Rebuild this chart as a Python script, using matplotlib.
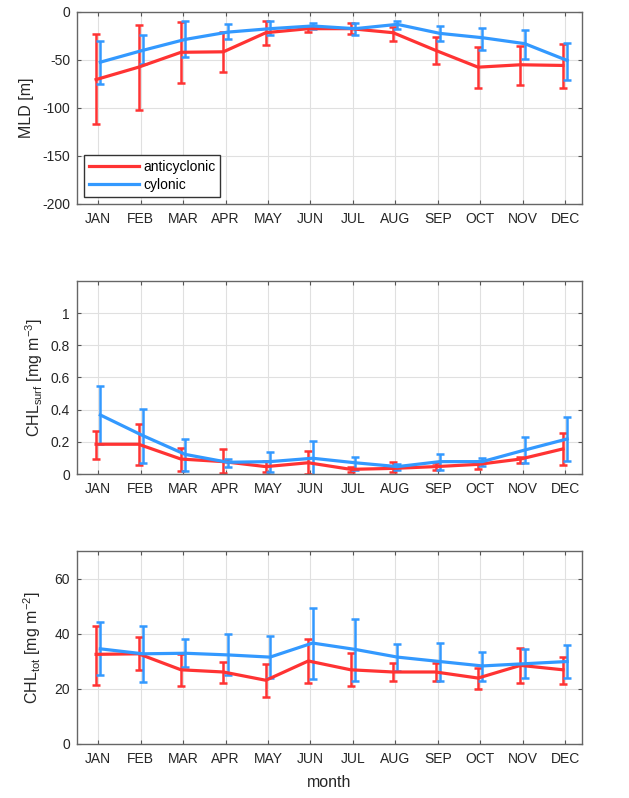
import numpy as np
import matplotlib
matplotlib.use("Agg")
import matplotlib.pyplot as plt
from matplotlib.lines import Line2D

plt.rcParams['font.family'] = ['Liberation Sans', 'DejaVu Sans']
plt.rcParams['mathtext.default'] = 'regular'
plt.rcParams['axes.unicode_minus'] = False

months = ['JAN', 'FEB', 'MAR', 'APR', 'MAY', 'JUN',
          'JUL', 'AUG', 'SEP', 'OCT', 'NOV', 'DEC']

# MLD [m]: mean, upper end, lower end of error bar
mld_anti = [-70.4, -57.5, -42.0, -41.5, -21.6, -17.4, -17.4, -21.6, -40.0, -57.5, -55.0, -55.7]
mld_anti_hi = [-23.0, -14.0, -10.5, -20.5, -9.4, -14.6, -11.0, -15.3, -26.0, -36.2, -35.5, -33.0]
mld_anti_lo = [-117.0, -102.0, -74.5, -62.7, -34.8, -20.6, -22.6, -30.3, -54.0, -79.0, -75.6, -79.0]
mld_cyc = [-52.3, -40.0, -28.6, -21.0, -17.4, -14.6, -17.4, -12.9, -22.3, -26.8, -33.0, -50.5]
mld_cyc_hi = [-30.3, -24.4, -9.8, -12.9, -9.4, -11.0, -11.0, -9.4, -14.6, -16.4, -18.8, -32.0]
mld_cyc_lo = [-74.6, -54.7, -47.0, -28.6, -24.4, -17.4, -23.7, -18.1, -30.3, -39.7, -49.5, -70.4]

# CHL surf [mg m-3]
surf_anti = [0.185, 0.185, 0.093, 0.077, 0.046, 0.070, 0.029, 0.035, 0.046, 0.060, 0.093, 0.156]
surf_anti_hi = [0.270, 0.310, 0.164, 0.154, 0.081, 0.145, 0.045, 0.077, 0.070, 0.080, 0.108, 0.253]
surf_anti_lo = [0.093, 0.056, 0.019, 0.004, 0.010, 0.000, 0.012, 0.015, 0.025, 0.030, 0.070, 0.056]
surf_cyc = [0.367, 0.239, 0.122, 0.073, 0.077, 0.098, 0.070, 0.046, 0.077, 0.077, 0.149, 0.218]
surf_cyc_hi = [0.548, 0.405, 0.216, 0.091, 0.135, 0.205, 0.104, 0.062, 0.124, 0.100, 0.232, 0.353]
surf_cyc_lo = [0.185, 0.066, 0.021, 0.041, 0.015, -0.005, 0.025, 0.025, 0.025, 0.050, 0.066, 0.083]

# CHL tot [mg m-2]
tot_anti = [32.5, 32.7, 26.9, 26.1, 23.1, 30.1, 26.9, 26.1, 26.1, 23.9, 28.5, 26.9]
tot_anti_hi = [42.9, 38.7, 32.5, 29.9, 29.1, 37.9, 32.9, 29.3, 29.5, 27.5, 34.9, 31.7]
tot_anti_lo = [21.5, 26.9, 20.9, 22.2, 17.1, 22.2, 21.0, 22.8, 22.7, 20.1, 22.1, 21.9]
tot_cyc = [34.5, 32.7, 32.9, 32.3, 31.5, 36.6, 34.3, 31.5, 29.9, 28.3, 29.1, 29.9]
tot_cyc_hi = [44.4, 42.6, 38.1, 39.7, 39.1, 49.2, 45.3, 36.3, 36.7, 33.5, 34.5, 35.9]
tot_cyc_lo = [24.9, 22.5, 27.9, 25.1, 23.9, 23.7, 22.7, 26.5, 22.8, 22.8, 23.9, 23.9]

RED = '#ff3333'
BLUE = '#3399ff'
x = np.arange(1, 13)


def _errplot(ax, xs, m, hi, lo, color):
    m = np.asarray(m)
    yerr = [m - np.asarray(lo), np.asarray(hi) - m]
    ax.errorbar(xs, m, yerr=yerr, color=color, lw=2.3, elinewidth=1.8,
                capsize=3, capthick=1.8)


def _style(ax):
    ax.set_xlim(0.5, 12.4)
    ax.set_xticks(x)
    ax.set_xticklabels(months)
    ax.grid(True, color='#e0e0e0', lw=0.8)
    ax.set_axisbelow(True)
    ax.tick_params(direction='in', top=True, right=True, length=3,
                   color='#555555', labelcolor='#262626', labelsize=10)
    ax.tick_params(axis='x', pad=6)
    ax.tick_params(axis='y', pad=5)
    for s in ax.spines.values():
        s.set_color('#666666')
        s.set_linewidth(1.0)


fig = plt.figure(figsize=(6.29, 7.98), dpi=100)
ax1 = fig.add_axes([0.1224, 0.7444, 0.8029, 0.2406])
ax2 = fig.add_axes([0.1224, 0.4060, 0.8029, 0.2419])
ax3 = fig.add_axes([0.1224, 0.0677, 0.8029, 0.2419])

# --- MLD -------------------------------------------------------------
_errplot(ax1, x - 0.05, mld_anti, mld_anti_hi, mld_anti_lo, RED)
_errplot(ax1, x + 0.05, mld_cyc, mld_cyc_hi, mld_cyc_lo, BLUE)
ax1.set_ylim(-200, 0)
ax1.set_yticks([-200, -150, -100, -50, 0])
ax1.set_ylabel('MLD [m]', fontsize=11.5, color='#262626', labelpad=6)
_style(ax1)
handles = [Line2D([], [], color=RED, lw=2.3), Line2D([], [], color=BLUE, lw=2.3)]
leg = ax1.legend(handles, ['anticyclonic', 'cylonic'], loc='lower left',
                 fontsize=10, fancybox=False, handlelength=3.6,
                 handletextpad=0.3, borderaxespad=0.5, borderpad=0.35,
                 labelspacing=0.3, framealpha=1)
leg.get_frame().set_edgecolor('#333333')

# --- CHL surf --------------------------------------------------------
_errplot(ax2, x - 0.05, surf_anti, surf_anti_hi, surf_anti_lo, RED)
_errplot(ax2, x + 0.05, surf_cyc, surf_cyc_hi, surf_cyc_lo, BLUE)
ax2.set_ylim(0, 1.2)
ax2.set_yticks([0, 0.2, 0.4, 0.6, 0.8, 1])
ax2.set_yticklabels(['0', '0.2', '0.4', '0.6', '0.8', '1'])
ax2.set_ylabel('CHL$_{surf}$ [mg m$^{-3}$]', fontsize=11.5, color='#262626')
_style(ax2)

# --- CHL tot ---------------------------------------------------------
_errplot(ax3, x - 0.05, tot_anti, tot_anti_hi, tot_anti_lo, RED)
_errplot(ax3, x + 0.05, tot_cyc, tot_cyc_hi, tot_cyc_lo, BLUE)
ax3.set_ylim(0, 70)
ax3.set_yticks([0, 20, 40, 60])
ax3.set_ylabel('CHL$_{tot}$ [mg m$^{-2}$]', fontsize=11.5, color='#262626',
               labelpad=8)
ax3.set_xlabel('month', fontsize=11.5, color='#262626', labelpad=6)
_style(ax3)

fig.savefig('out.png', dpi=100)
